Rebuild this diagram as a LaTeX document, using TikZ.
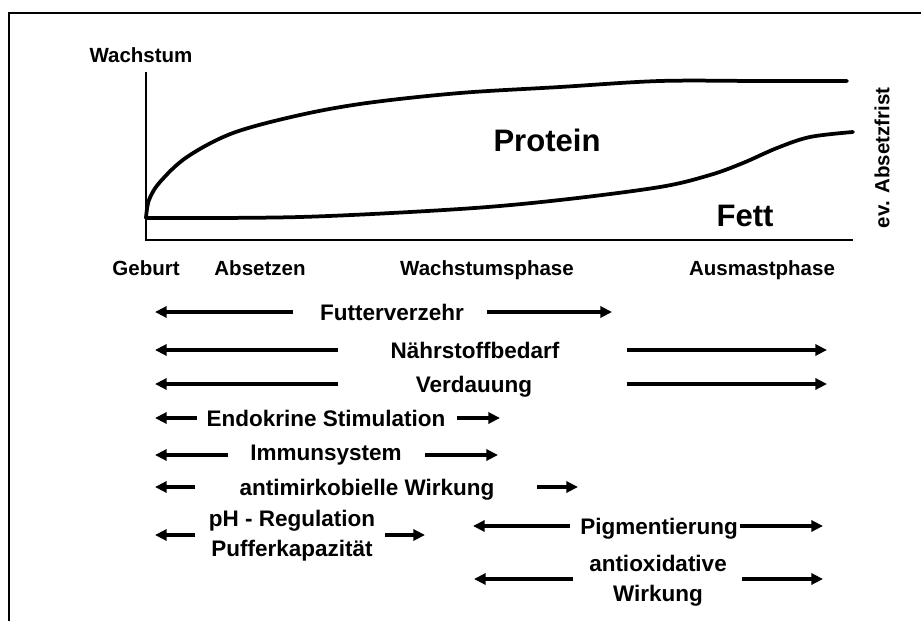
\documentclass[tikz,border=0pt]{standalone}
\usepackage{fontspec}
\setmainfont{Liberation Sans}
\usetikzlibrary{arrows.meta}

\begin{document}
\begin{tikzpicture}[x=0.03cm, y=-0.03cm,
  axlab/.style={font=\fontsize{17.5}{21}\selectfont\bfseries, inner sep=0pt,
                text height=12.5pt, text depth=0pt},
  big/.style={font=\fontsize{26.5}{30}\selectfont\bfseries, inner sep=0pt,
              text height=19pt, text depth=0pt},
  lab/.style={font=\fontsize{19.2}{25.6}\selectfont\bfseries, inner sep=0pt,
              text height=13.7pt, text depth=0pt},
  labtwo/.style={font=\fontsize{19.2}{25.6}\selectfont\bfseries, align=center,
                 inner sep=0pt},
  arr/.style={-{Triangle[length=10pt,width=9.5pt]}, line width=2.9pt},
  growth/.style={line width=3.2pt, line join=round, line cap=round}
]
  \useasboundingbox (0,0) rectangle (921,621);

  % frame (only top and left edge are visible)
  \coordinate (frameBL) at (9,621);
  \coordinate (frameTL) at (9,13);
  \coordinate (frameTR) at (921,13);
  \draw[line width=1.8pt] (frameBL) -- (frameTL) -- (frameTR);

  % axes
  \node[axlab] (wachstum) at (141,55) {Wachstum};
  \coordinate (ytop) at (146,72);
  \coordinate (origin) at (146,240);
  \coordinate (xend) at (853,240);
  \draw[line width=1.2pt] (ytop) -- (origin) -- (xend);

  % growth curves
  \draw[growth] plot[smooth, tension=0.55] coordinates {(146,218) (149,200)
    (160,182) (187,157) (233,133) (300,115) (367,103) (460,93) (560,87)
    (660,81) (760,81) (847,81)};
  \draw[growth] plot[smooth, tension=0.55] coordinates {(146,218) (300,217)
    (460,209) (560,200) (660,187) (710,175) (743,163) (777,148) (810,137)
    (853,132)};

  \node[big] (protein) at (547,140) {Protein};
  \node[big] (fett) at (745,215) {Fett};
  \node[axlab, rotate=90] (frist) at (882,158) {ev. Absetzfrist};

  % phases
  \node[axlab] (geburt) at (146,268) {Geburt};
  \node[axlab] (absetzen) at (260,268) {Absetzen};
  \node[axlab] (wphase) at (487,268) {Wachstumsphase};
  \node[axlab] (ausmast) at (762,268) {Ausmastphase};

  % factors
  \node[lab] (futter) at (392,312) {Futterverzehr};
  \coordinate (futterA) at (293,312); \coordinate (futterB) at (155,312);
  \coordinate (futterC) at (487,312); \coordinate (futterD) at (612,312);
  \draw[arr] (futterA) -- (futterB);
  \draw[arr] (futterC) -- (futterD);

  \node[lab] (bedarf) at (475,350) {Nährstoffbedarf};
  \coordinate (bedarfA) at (338,350); \coordinate (bedarfB) at (155,350);
  \coordinate (bedarfC) at (627,350); \coordinate (bedarfD) at (827,350);
  \draw[arr] (bedarfA) -- (bedarfB);
  \draw[arr] (bedarfC) -- (bedarfD);

  \node[lab] (verdau) at (474,384) {Verdauung};
  \coordinate (verdauA) at (338,384); \coordinate (verdauB) at (155,384);
  \coordinate (verdauC) at (627,384); \coordinate (verdauD) at (827,384);
  \draw[arr] (verdauA) -- (verdauB);
  \draw[arr] (verdauC) -- (verdauD);

  \node[lab] (endo) at (326,418) {Endokrine Stimulation};
  \coordinate (endoA) at (197,418); \coordinate (endoB) at (155,418);
  \coordinate (endoC) at (457,418); \coordinate (endoD) at (500,418);
  \draw[arr] (endoA) -- (endoB);
  \draw[arr] (endoC) -- (endoD);

  \node[lab] (immun) at (326,452) {Immunsystem};
  \coordinate (immunA) at (228,455); \coordinate (immunB) at (155,455);
  \coordinate (immunC) at (425,455); \coordinate (immunD) at (498,455);
  \draw[arr] (immunA) -- (immunB);
  \draw[arr] (immunC) -- (immunD);

  \node[lab] (mikro) at (367,487) {antimirkobielle Wirkung};
  \coordinate (mikroA) at (195,487); \coordinate (mikroB) at (155,487);
  \coordinate (mikroC) at (537,487); \coordinate (mikroD) at (578,487);
  \draw[arr] (mikroA) -- (mikroB);
  \draw[arr] (mikroC) -- (mikroD);

  \node[labtwo] (ph) at (292,536) {pH - Regulation\\Pufferkapazität};
  \coordinate (phA) at (195,535); \coordinate (phB) at (155,535);
  \coordinate (phC) at (385,535); \coordinate (phD) at (425,535);
  \draw[arr] (phA) -- (phB);
  \draw[arr] (phC) -- (phD);

  \node[lab] (pigment) at (659,526) {Pigmentierung};
  \coordinate (pigmentA) at (570,526); \coordinate (pigmentB) at (473,526);
  \coordinate (pigmentC) at (740,526); \coordinate (pigmentD) at (823,526);
  \draw[arr] (pigmentA) -- (pigmentB);
  \draw[arr] (pigmentC) -- (pigmentD);

  \node[labtwo] (antiox) at (658,581) {antioxidative\\Wirkung};
  \coordinate (antioxA) at (573,579); \coordinate (antioxB) at (474,579);
  \coordinate (antioxC) at (742,579); \coordinate (antioxD) at (823,579);
  \draw[arr] (antioxA) -- (antioxB);
  \draw[arr] (antioxC) -- (antioxD);
\end{tikzpicture}
\end{document}
